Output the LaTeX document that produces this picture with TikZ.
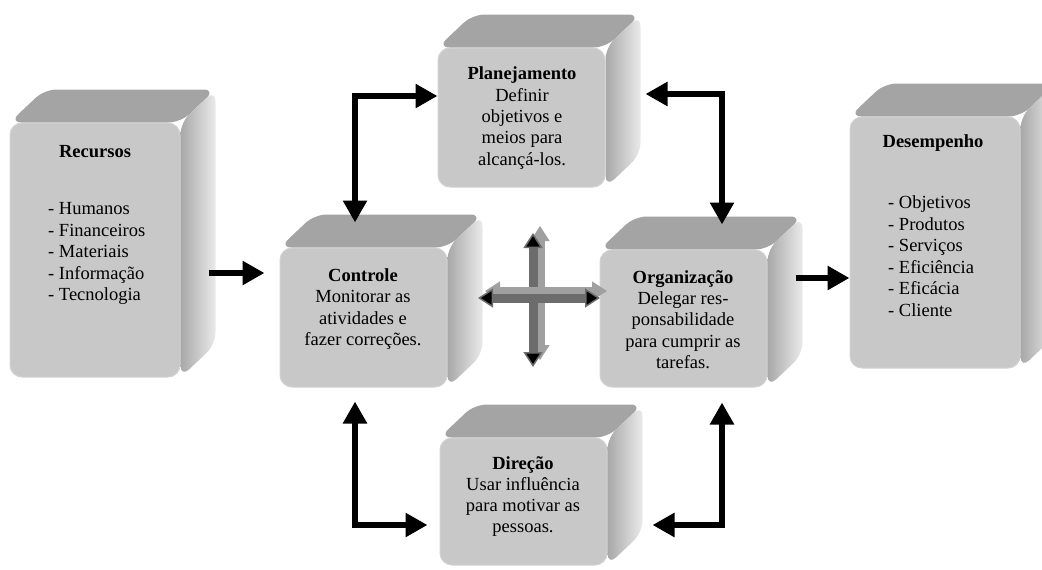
\documentclass[tikz,border=0pt]{standalone}
\usepackage{fontspec}
\setmainfont{Liberation Serif}
\usetikzlibrary{arrows.meta,calc,backgrounds}
\definecolor{frontgray}{HTML}{C8C8C8}
\definecolor{topgray}{HTML}{A4A4A4}
\definecolor{sidedark}{HTML}{A8A8A8}
\definecolor{sidelight}{HTML}{EAEAEA}
\definecolor{bardark}{HTML}{6C6C6C}
\definecolor{barlight}{HTML}{A0A0A0}
\tikzset{
  frontface/.style={fill=frontgray, draw=gray!35, line width=1pt, rounded corners=12pt, inner sep=0pt},
  topface/.style={fill=topgray, rounded corners=12pt},
  sideface/.style={left color=sidedark, right color=sidelight, rounded corners=12pt},
  txt/.style={align=center, inner sep=0pt, font=\fontsize{18.5}{21.3}\selectfont},
  listtxt/.style={align=left, inner sep=0pt, anchor=west, font=\fontsize{18.5}{21.5}\selectfont},
  bigarrow/.style={line width=6pt, -{Triangle[length=22pt,width=23pt]}},
  dblarrow/.style={line width=6pt, {Triangle[length=22pt,width=23pt]}-{Triangle[length=22pt,width=23pt]}},
  crossback/.style={line width=9pt, draw=barlight, {Triangle[length=15pt,width=19pt,line width=1pt,fill=barlight]}-{Triangle[length=15pt,width=19pt,line width=1pt,fill=barlight]}},
  crossfront/.style={line width=9pt, draw=bardark, {Triangle[length=15pt,width=19pt,line width=1.5pt,fill=black]}-{Triangle[length=15pt,width=19pt,line width=1.5pt,fill=black]}},
}
\newcommand\boxfaces[1]{%
  \fill[topface] (#1.north west) -- ([shift={(35,-33)}]#1.north west) -- ([shift={(35,-33)}]#1.north east) -- (#1.north east) -- cycle;
  \shade[sideface] (#1.north east) -- ([shift={(35,-33)}]#1.north east) -- ([shift={(35,-33)}]#1.south east) -- (#1.south east) -- cycle;
}
\begin{document}
\begin{tikzpicture}[x=1pt,y=-1pt]
\useasboundingbox (0,0) rectangle (1042,570);

% front faces
\node[frontface, minimum width=170pt, minimum height=254pt] (rec) at (95,250) {};
\node[frontface, minimum width=167pt, minimum height=139pt] (plan) at (521.5,117.5) {};
\node[frontface, minimum width=167pt, minimum height=139pt] (ctrl) at (363.5,317.5) {};
\node[frontface, minimum width=167pt, minimum height=137pt] (org) at (683.5,318.5) {};
\node[frontface, minimum width=167pt, minimum height=127pt] (dir) at (523.5,501.5) {};
\node[frontface, minimum width=170pt, minimum height=251pt] (des) at (935,242.5) {};

\begin{pgfonlayer}{background}
  \boxfaces{rec}
  \boxfaces{plan}
  \boxfaces{ctrl}
  \boxfaces{org}
  \boxfaces{dir}
  \boxfaces{des}
\end{pgfonlayer}

% texts
\node[txt] (recT) at (95,152) {\textbf{Recursos}};
\node[listtxt] (recL) at (48,253.5) {- Humanos\\- Financeiros\\- Materiais\\- Informação\\- Tecnologia};
\node[txt] (desT) at (933,143) {\textbf{Desempenho}};
\node[listtxt] (desL) at (888,256) {- Objetivos\\- Produtos\\- Serviços\\- Eficiência\\- Eficácia\\- Cliente};
\node[txt] (planT) at (522,118) {\textbf{Planejamento}\\Definir\\objetivos e\\meios para\\alcançá-los.};
\node[txt] (ctrlT) at (363,309) {\textbf{Controle}\\Monitorar as\\atividades e\\fazer correções.};
\node[txt] (orgT) at (683,319.5) {\textbf{Organização}\\Delegar res-\\ponsabilidade\\para cumprir as\\tarefas.};
\node[txt] (dirT) at (523,496.5) {\textbf{Direção}\\Usar influência\\para motivar as\\pessoas.};

% connectors
\draw[bigarrow] ([shift={(28,23)}]rec.east) -- ([shift={(-15,-44.5)}]ctrl.west);
\draw[bigarrow] ([shift={(28,-40.5)}]org.east) -- ([shift={(0,35.5)}]des.west);
\draw[dblarrow] ([shift={(-8.5,-25)}]ctrl.north) |- ([shift={(0,-21.5)}]plan.west);
\draw[dblarrow] ([shift={(38.5,-25)}]org.north) |- ([shift={(40,-23.5)}]plan.east);
\draw[dblarrow] ([shift={(-8.5,14)}]ctrl.south) |- ([shift={(-12,23.5)}]dir.west);
\draw[dblarrow] ([shift={(38.5,15)}]org.south) |- ([shift={(45,23.5)}]dir.east);

% central cross
\coordinate (cT) at (533,233);
\coordinate (cB) at (533,367);
\coordinate (cL) at (478,298);
\coordinate (cR) at (600,298);
\draw[crossback] ([shift={(7,-7)}]cT) -- ([shift={(7,-7)}]cB);
\draw[crossfront] (cT) -- (cB);
\draw[crossback] ([shift={(7,-7)}]cL) -- ([shift={(7,-7)}]cR);
\draw[crossfront] (cL) -- (cR);
\end{tikzpicture}
\end{document}
